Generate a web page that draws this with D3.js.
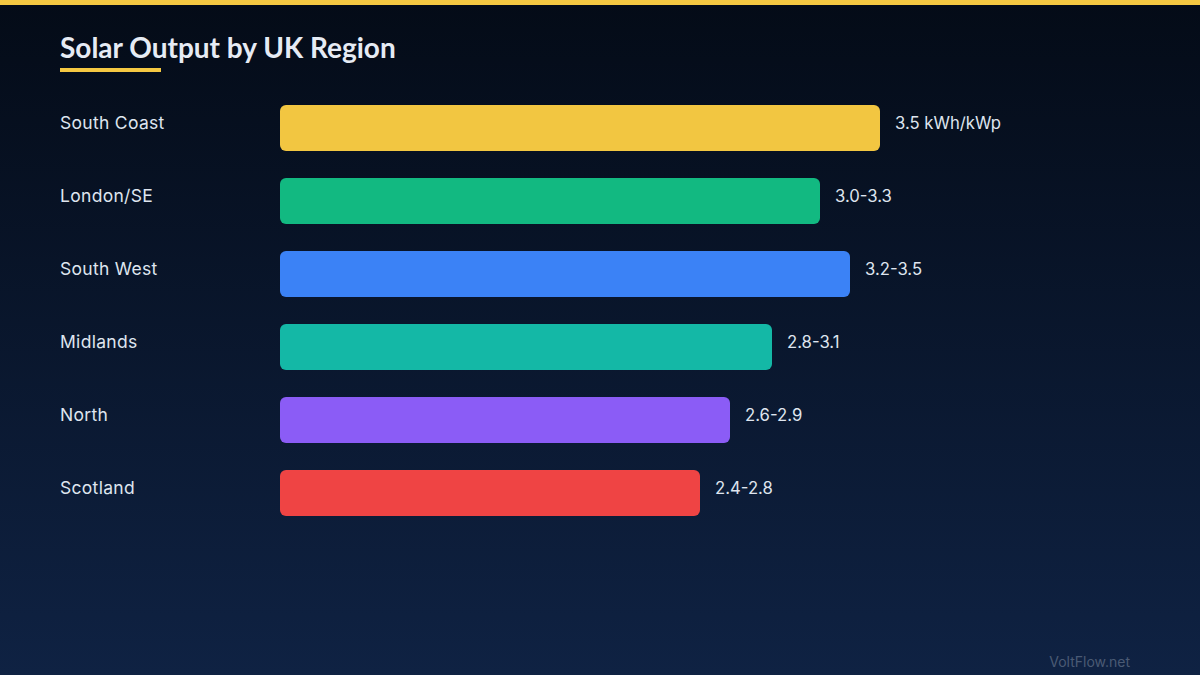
<!DOCTYPE html>
<html><head><meta charset="utf-8">
<script src="https://cdn.jsdelivr.net/npm/d3@7"></script>
<style>html,body{margin:0;padding:0;background:#081226;}svg{display:block}</style>
</head><body>
<svg id="c" width="1200" height="675"></svg>
<script>
const regions = ["South Coast","London/SE","South West","Midlands","North","Scotland"];
const barPercent = [100, 90, 95, 82, 75, 70];
const valueLabels = ["3.5 kWh/kWp","3.0-3.3","3.2-3.5","2.8-3.1","2.6-2.9","2.4-2.8"];
const barColors = ["#f2c641","#12b981","#3b82f6","#14b8a6","#8b5cf6","#ef4444"];

const svg = d3.select("#c");
const defs = svg.append("defs");
const g = defs.append("linearGradient").attr("id","bg").attr("x1",0).attr("y1",0).attr("x2",0).attr("y2",1);
g.append("stop").attr("offset","0%").attr("stop-color","#040b17");
g.append("stop").attr("offset","100%").attr("stop-color","#0f2243");
svg.append("rect").attr("width",1200).attr("height",675).attr("fill","url(#bg)");
svg.append("rect").attr("width",1200).attr("height",5).attr("fill","#f5c842");

svg.append("text").attr("x",60).attr("y",58).text("Solar Output by UK Region")
  .attr("font-family","Lato, 'Noto Sans', sans-serif").attr("font-weight",700)
  .attr("font-size",28).attr("fill","#e6ebf4");
svg.append("rect").attr("x",60).attr("y",68).attr("width",101).attr("height",4).attr("fill","#f5c842");

const x = d3.scaleLinear().domain([0,100]).range([0,600]);
const y = d3.scaleBand().domain(regions).range([105,516]).paddingInner(0.37).paddingOuter(0);

const rows = svg.selectAll("g.row").data(regions).join("g").attr("class","row");
rows.append("rect").attr("x",280).attr("y",d=>y(d)).attr("height",y.bandwidth())
  .attr("width",(d,i)=>x(barPercent[i])).attr("rx",6).attr("fill",(d,i)=>barColors[i]);
rows.append("text").attr("x",60).attr("y",d=>y(d)+24)
  .text(d=>d).attr("font-family","Inter, 'Noto Sans', sans-serif").attr("font-size",17.5)
  .attr("letter-spacing",0.3).attr("fill","#dfe5ef");
rows.append("text").attr("x",(d,i)=>280+x(barPercent[i])+15).attr("y",d=>y(d)+24)
  .text((d,i)=>valueLabels[i]).attr("font-family","Inter, 'Noto Sans', sans-serif").attr("font-size",16.7)
  .attr("fill","#dfe5ef");

svg.append("text").attr("x",1130).attr("y",667).attr("text-anchor","end").text("VoltFlow.net")
  .attr("font-family","Inter, 'Noto Sans', sans-serif").attr("font-size",14).attr("fill","#4a5a74");
</script>
</body></html>
